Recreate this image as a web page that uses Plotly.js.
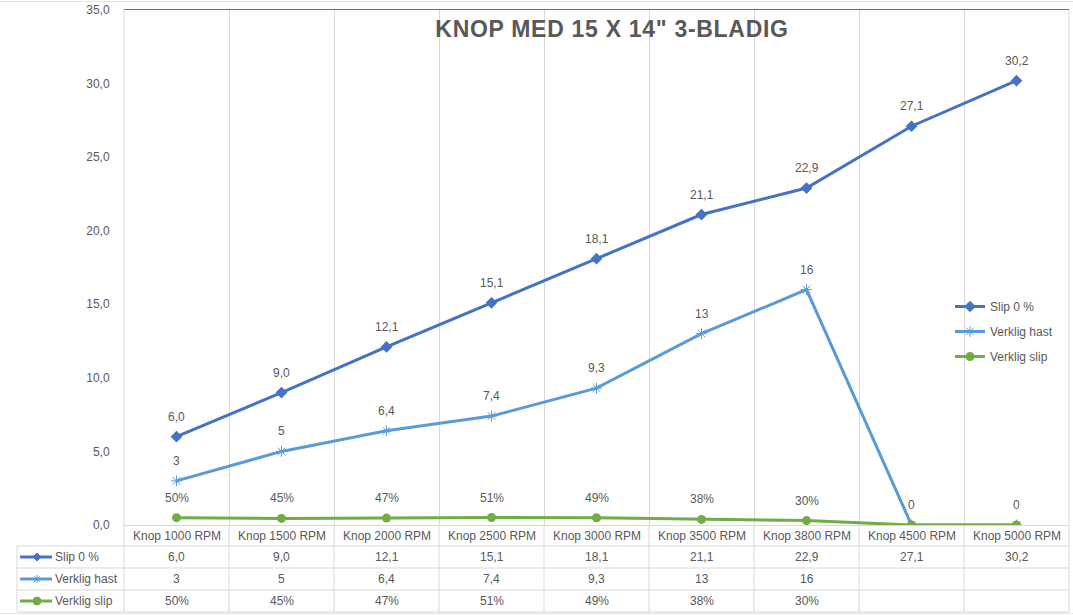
<!DOCTYPE html>
<html><head><meta charset="utf-8">
<script src="https://cdn.plot.ly/plotly-3.0.1.min.js"></script>
<style>html,body{margin:0;padding:0;background:#fff;} .gtitle{letter-spacing:0.7px;}</style>
</head><body>
<div id="chart" style="width:1073px;height:615px;"></div>
<script>
// ---- data ----
const categories = ["Knop 1000 RPM","Knop 1500 RPM","Knop 2000 RPM","Knop 2500 RPM","Knop 3000 RPM","Knop 3500 RPM","Knop 3800 RPM","Knop 4500 RPM","Knop 5000 RPM"];
const slip0 = [6.0, 9.0, 12.1, 15.1, 18.1, 21.1, 22.9, 27.1, 30.2];
const verkligHast = [3, 5, 6.4, 7.4, 9.3, 13, 16, null, null];
const verkligSlip = [0.50, 0.45, 0.47, 0.51, 0.49, 0.38, 0.30, null, null];
const seriesNames = ["Slip 0 %", "Verklig hast", "Verklig slip"];
const yTicks = [0, 5, 10, 15, 20, 25, 30, 35];
const titleText = 'KNOP MED 15 X 14" 3-BLADIG';

// ---- styles ----
const colors = ["#4472C4", "#5B9BD5", "#70AD47"];
const textColor = "#595959";
const gridColor = "#d9d9d9";
const FONT = "Liberation Sans, Arial, sans-serif";

const W = 1073, H = 615, L = 124, R = 4, T = 10, B = 90;
const py2p = py => (H - B - py) / (H - T - B);
const px2p = px => (px - L) / (W - L - R);

const fmt1 = v => v.toFixed(1).replace('.', ',');
const fmtN = v => String(v).replace('.', ',');
const fmtP = v => Math.round(v * 100) + '%';

// blanks are plotted as zero (as in the source chart)
const hastPlot = verkligHast.map(v => v == null ? 0 : v);
const slipPlot = verkligSlip.map(v => v == null ? 0 : v);

const traces = [
  {x: categories, y: slip0, name: seriesNames[0], type: 'scatter', mode: 'lines+markers',
   legendgroup: 'a', line: {color: colors[0], width: 3},
   marker: {symbol: 'diamond', size: 9, color: colors[0]}},
  {x: categories, y: hastPlot, name: seriesNames[1], type: 'scatter', mode: 'lines+markers',
   legendgroup: 'b', line: {color: colors[1], width: 3},
   marker: {symbol: 'asterisk-open', size: 9, color: colors[1], line: {color: colors[1], width: 1}}},
  {x: categories, y: slipPlot, name: seriesNames[2], type: 'scatter', mode: 'lines+markers',
   legendgroup: 'c', line: {color: colors[2], width: 3},
   marker: {symbol: 'circle', size: 9, color: colors[2]}}
];

const annotations = [];
const lblFont = {family: FONT, size: 12, color: textColor};
// data labels
slip0.forEach((v, i) => annotations.push({x: categories[i], y: v, xref: 'x', yref: 'y', text: fmt1(v),
  showarrow: false, yshift: 20, font: lblFont}));
hastPlot.forEach((v, i) => annotations.push({x: categories[i], y: v, xref: 'x', yref: 'y', text: fmtN(v),
  showarrow: false, yshift: 20, font: lblFont}));
verkligSlip.forEach((v, i) => { if (v != null) annotations.push({x: categories[i], y: v, xref: 'x', yref: 'y',
  text: fmtP(v), showarrow: false, yshift: 20, font: lblFont}); });

// data table
const rowY = [536, 557, 579, 601].map(py2p);
categories.forEach((c, i) => annotations.push({x: c, y: rowY[0], xref: 'x', yref: 'paper', text: c,
  showarrow: false, yanchor: 'middle', font: lblFont}));
const tableRows = [
  slip0.map(v => v == null ? '' : fmt1(v)),
  verkligHast.map(v => v == null ? '' : fmtN(v)),
  verkligSlip.map(v => v == null ? '' : fmtP(v))
];
tableRows.forEach((row, r) => {
  row.forEach((t, i) => { if (t !== '') annotations.push({x: categories[i], y: rowY[r + 1], xref: 'x', yref: 'paper',
    text: t, showarrow: false, yanchor: 'middle', font: lblFont}); });
  annotations.push({x: px2p(53), y: rowY[r + 1], xref: 'paper', yref: 'paper', text: seriesNames[r],
    showarrow: false, xanchor: 'left', yanchor: 'middle', font: lblFont});
});

// shapes
const shapes = [];
const gl = {color: gridColor, width: 1};
shapes.push({type: 'line', xref: 'paper', yref: 'paper', x0: 0, x1: 1, y0: py2p(9.5), y1: py2p(9.5), line: {color: '#4472C4', width: 1}});
shapes.push({type: 'line', xref: 'paper', yref: 'paper', x0: 0, x1: 0, y0: py2p(10), y1: py2p(612), line: gl});
shapes.push({type: 'line', xref: 'paper', yref: 'paper', x0: 1, x1: 1, y0: py2p(10), y1: py2p(612), line: gl});
for (let i = 0; i < categories.length - 1; i++) {
  shapes.push({type: 'line', xref: 'x', yref: 'paper', x0: i + 0.5, x1: i + 0.5, y0: 0, y1: py2p(612), line: gl});
}
[546, 568, 590, 612].forEach(py => shapes.push({type: 'line', xref: 'paper', yref: 'paper',
  x0: px2p(17), x1: 1, y0: py2p(py), y1: py2p(py), line: gl}));
shapes.push({type: 'line', xref: 'paper', yref: 'paper', x0: px2p(17), x1: px2p(17), y0: py2p(546), y1: py2p(612), line: gl});
// sheet gridlines outside the chart
shapes.push({type: 'line', xref: 'paper', yref: 'paper', x0: px2p(0), x1: px2p(1073), y0: py2p(1.5), y1: py2p(1.5), line: {color: '#e3e3e3', width: 1}});
shapes.push({type: 'line', xref: 'paper', yref: 'paper', x0: px2p(0), x1: px2p(1073), y0: py2p(613.5), y1: py2p(613.5), line: {color: '#e3e3e3', width: 1}});

// legend keys in the table
const keyX0 = px2p(20), keyX1 = px2p(52), keyC = px2p(37);
const dx = 4 / (W - L - R), dy = 4 / (H - T - B);
[1, 2, 3].forEach(r => {
  const y = rowY[r], c = colors[r - 1];
  shapes.push({type: 'line', xref: 'paper', yref: 'paper', x0: keyX0, x1: keyX1, y0: y, y1: y, line: {color: c, width: 3}});
  if (r === 1) {
    shapes.push({type: 'path', xref: 'paper', yref: 'paper', fillcolor: c, line: {color: c, width: 1},
      path: `M${keyC - dx},${y} L${keyC},${y + dy} L${keyC + dx},${y} L${keyC},${y - dy} Z`});
  } else if (r === 2) {
    [[1, 0], [0, 1], [0.7, 0.7], [0.7, -0.7]].forEach(([a, b]) => shapes.push({type: 'line', xref: 'paper', yref: 'paper',
      x0: keyC - a * dx, x1: keyC + a * dx, y0: y - b * dy, y1: y + b * dy, line: {color: c, width: 1}}));
  } else {
    shapes.push({type: 'circle', xref: 'paper', yref: 'paper', fillcolor: c, line: {color: c, width: 1},
      x0: keyC - dx, x1: keyC + dx, y0: y - dy, y1: y + dy});
  }
});

const layout = {
  width: W, height: H,
  margin: {l: L, r: R, t: T, b: B},
  paper_bgcolor: '#fff', plot_bgcolor: '#fff',
  separators: ',.',
  font: {family: FONT, size: 12, color: textColor},
  title: {text: titleText, x: 612 / W, xanchor: 'center', y: 1 - 29 / H, yanchor: 'middle', yref: 'container',
    font: {family: FONT, size: 23, color: textColor, weight: 'bold'}},
  xaxis: {type: 'category', range: [-0.5, categories.length - 0.5], tickson: 'boundaries',
    showgrid: true, gridcolor: gridColor, gridwidth: 1, showline: true, linecolor: gridColor, linewidth: 1,
    showticklabels: false, ticks: '', zeroline: false, fixedrange: true},
  yaxis: {range: [0, 35], tickvals: yTicks, ticktext: yTicks.map(fmt1), showgrid: false, zeroline: false,
    showline: false, ticks: 'outside', ticklen: 11, tickcolor: 'rgba(0,0,0,0)',
    tickfont: {family: FONT, size: 12, color: textColor}, fixedrange: true},
  legend: {x: px2p(950), y: py2p(292), xanchor: 'left', yanchor: 'top', bgcolor: 'rgba(0,0,0,0)',
    font: {family: FONT, size: 12, color: textColor}, tracegroupgap: 6, traceorder: 'grouped', itemwidth: 30},
  showlegend: true,
  annotations: annotations,
  shapes: shapes
};

Plotly.newPlot('chart', traces, layout, {displayModeBar: false, staticPlot: true});
</script>
</body></html>
